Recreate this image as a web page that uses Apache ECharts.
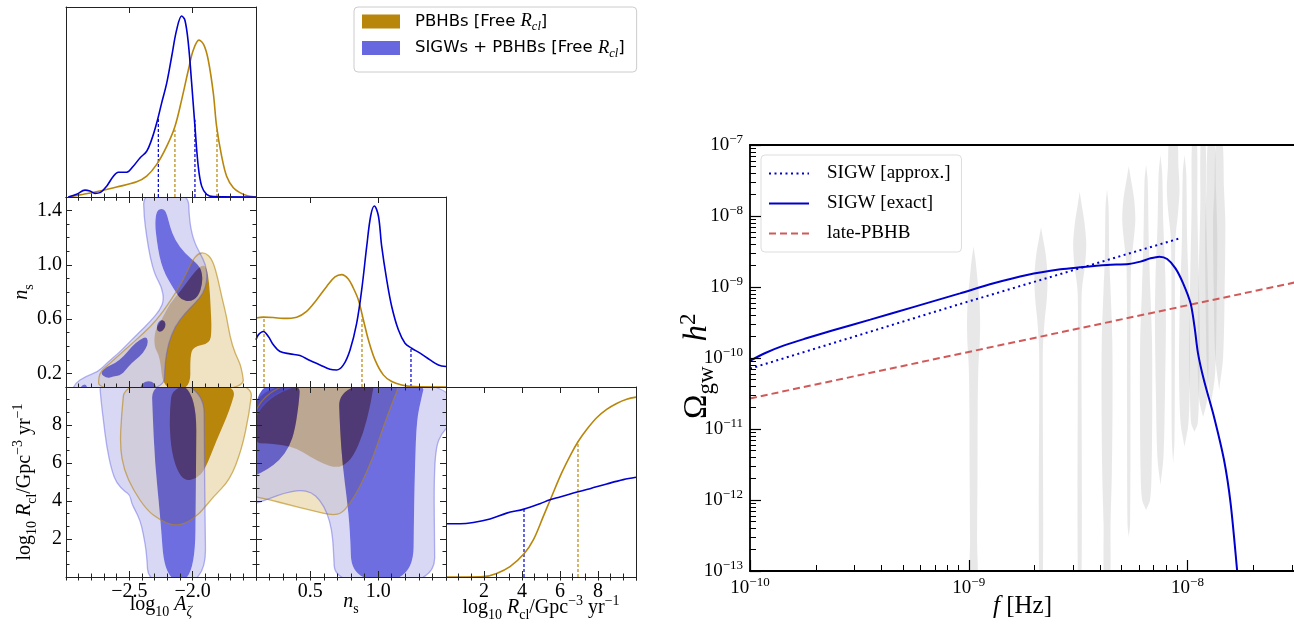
<!DOCTYPE html>
<html>
<head>
<meta charset="utf-8">
<title>corner + SIGW spectrum</title>
<script src="https://cdn.jsdelivr.net/npm/echarts@6.0.0/dist/echarts.min.js"></script>
<style>
html,body{margin:0;padding:0;background:#ffffff;}
#chart{width:1294px;height:626px;}
</style>
</head>
<body>
<div id="chart"></div>
<script>
// ======================= DATA : corner plot =======================
const rangeA = [-3.0, -1.5];          // log10 A_zeta
const rangeNs = [0.1, 1.5];           // n_s
const rangeR = [0, 10];               // log10 R_cl
const rangeMarg = [0, 1.05];          // normalised marginal density
const ticksA = [-2.5, -2.0];
const ticksNsY = [0.2, 0.6, 1.0, 1.4];
const ticksNsX = [0.5, 1.0];
const ticksR = [2, 4, 6, 8];
const minorStepA = 0.1, minorStepNs = 0.1, minorStepR = 2 / 3;

// 1D marginals  [x, density]
const margA_blue = [[-2.982,0],[-2.916,0.015],[-2.85,0.038],[-2.811,0.033],[-2.771,0.02],[-2.732,0.024],[-2.679,0.06],[-2.626,0.115],[-2.587,0.137],[-2.521,0.137],[-2.469,0.17],[-2.416,0.216],[-2.363,0.253],[-2.324,0.317],[-2.284,0.409],[-2.245,0.519],[-2.205,0.629],[-2.166,0.775],[-2.127,0.922],[-2.087,1.0],[-2.061,0.977],[-2.034,0.848],[-2.008,0.629],[-1.982,0.39],[-1.956,0.17],[-1.929,0.06],[-1.89,0.015],[-1.837,0.002],[-1.5,0]];
const margA_gold = [[-2.982,0],[-2.863,0.015],[-2.732,0.033],[-2.6,0.055],[-2.442,0.084],[-2.363,0.115],[-2.284,0.18],[-2.205,0.28],[-2.14,0.39],[-2.087,0.537],[-2.034,0.702],[-1.995,0.812],[-1.95,0.867],[-1.911,0.839],[-1.877,0.757],[-1.837,0.574],[-1.811,0.39],[-1.771,0.225],[-1.732,0.115],[-1.679,0.051],[-1.627,0.024],[-1.561,0.005],[-1.5,0]];
const margNs_blue = [[0.1,0.261],[0.117,0.288],[0.154,0.307],[0.191,0.279],[0.228,0.233],[0.277,0.196],[0.351,0.183],[0.424,0.174],[0.498,0.146],[0.572,0.122],[0.645,0.098],[0.694,0.094],[0.744,0.122],[0.793,0.205],[0.842,0.353],[0.879,0.538],[0.916,0.778],[0.945,0.945],[0.972,1.0],[1.002,0.945],[1.026,0.778],[1.063,0.593],[1.1,0.445],[1.149,0.316],[1.198,0.242],[1.247,0.214],[1.309,0.187],[1.382,0.15],[1.444,0.122],[1.5,0.113]];
const margNs_gold = [[0.1,0.381],[0.154,0.386],[0.228,0.384],[0.301,0.379],[0.4,0.386],[0.473,0.418],[0.547,0.482],[0.621,0.556],[0.682,0.608],[0.731,0.621],[0.78,0.597],[0.817,0.547],[0.854,0.482],[0.891,0.372],[0.928,0.261],[0.977,0.15],[1.038,0.067],[1.1,0.03],[1.173,0.011],[1.259,0.002],[1.5,0]];
const margR_blue = [[0,0.294],[0.737,0.294],[1.439,0.301],[2.316,0.32],[3.193,0.353],[4.105,0.375],[4.947,0.405],[5.474,0.427],[6.0,0.442],[6.702,0.464],[7.579,0.488],[8.456,0.514],[9.333,0.538],[10,0.551]];
const margR_gold = [[0,0],[1.088,0],[1.965,0.002],[2.667,0.02],[3.368,0.057],[4.105,0.128],[4.596,0.205],[5.123,0.335],[5.561,0.445],[6.088,0.575],[6.614,0.686],[6.965,0.75],[7.404,0.815],[7.93,0.88],[8.456,0.926],[8.982,0.959],[9.509,0.982],[10,0.994]];

// credible-interval marks [x, height]
const qA_blue = [[-2.271,0.436],[-1.982,0.427]];
const qA_gold = [[-2.14,0.372],[-1.808,0.372]];
const qNs_blue = [[1.242,0.22]];
const qNs_gold = [[0.159,0.386],[0.881,0.39]];
const qR_blue = [[4.105,0.375]];
const qR_gold = [[6.947,0.75]];

// 2D contours (panel log10A - n_s)
const gold2_AN = [[-2.74,0.06],[-2.745,0.201],[-2.653,0.274],[-2.521,0.385],[-2.39,0.495],[-2.284,0.594],[-2.179,0.729],[-2.087,0.864],[-2.008,1.024],[-1.956,1.085],[-1.903,1.09],[-1.85,1.048],[-1.811,0.938],[-1.771,0.766],[-1.732,0.618],[-1.706,0.471],[-1.666,0.348],[-1.614,0.25],[-1.587,0.06]];
const gold1_AN = [[-2.232,0.08],[-2.258,0.324],[-2.305,0.397],[-2.298,0.52],[-2.245,0.594],[-2.179,0.717],[-2.087,0.815],[-1.995,0.938],[-1.929,0.999],[-1.89,0.987],[-1.869,0.864],[-1.858,0.692],[-1.85,0.52],[-1.863,0.422],[-1.995,0.397],[-2.021,0.324],[-2.016,0.08]];
const blue2_AN = [[-2.39,1.54],[-2.034,1.54],[-2.027,1.331],[-1.995,1.183],[-1.942,1.085],[-1.895,0.999],[-1.884,0.889],[-1.916,0.79],[-1.982,0.717],[-2.061,0.643],[-2.14,0.545],[-2.192,0.422],[-2.219,0.274],[-2.227,0.06],[-2.955,0.06],[-2.929,0.127],[-2.85,0.176],[-2.745,0.213],[-2.679,0.274],[-2.587,0.348],[-2.521,0.41],[-2.469,0.459],[-2.416,0.508],[-2.337,0.581],[-2.258,0.667],[-2.227,0.741],[-2.245,0.839],[-2.298,0.925],[-2.337,1.06],[-2.363,1.208],[-2.384,1.355]];
const blue1_AN = [
  [[-2.284,1.404],[-2.232,1.417],[-2.205,1.38],[-2.179,1.282],[-2.14,1.183],[-2.061,1.085],[-1.969,1.011],[-1.929,0.962],[-1.921,0.864],[-1.956,0.766],[-2.021,0.729],[-2.087,0.741],[-2.127,0.79],[-2.192,0.889],[-2.232,0.962],[-2.263,1.06],[-2.284,1.183],[-2.298,1.306]],
  [[-2.279,0.508],[-2.284,0.557],[-2.258,0.594],[-2.219,0.589],[-2.213,0.545],[-2.24,0.508]],
  [[-2.732,0.201],[-2.679,0.25],[-2.613,0.274],[-2.547,0.324],[-2.482,0.397],[-2.416,0.451],[-2.363,0.471],[-2.35,0.422],[-2.39,0.348],[-2.455,0.299],[-2.508,0.25],[-2.561,0.188],[-2.626,0.176],[-2.679,0.164]],
  [[-2.416,0.08],[-2.403,0.127],[-2.35,0.147],[-2.298,0.132],[-2.284,0.08]],
  [[-2.89,0.08],[-2.876,0.115],[-2.842,0.12],[-2.824,0.08]]
];

// 2D contours (panel log10A - log10R)
const gold2_AR = [[-2.534,10.4],[-2.561,8.614],[-2.574,6.86],[-2.542,5.632],[-2.469,4.579],[-2.363,3.526],[-2.258,3.0],[-2.153,2.702],[-2.048,2.825],[-1.942,3.351],[-1.837,4.228],[-1.706,5.105],[-1.614,6.684],[-1.553,8.614],[-1.521,10.4]];
const gold1_AR = [[-2.158,10.2],[-2.184,8.614],[-2.174,6.86],[-2.127,5.632],[-2.061,5.053],[-1.969,5.193],[-1.903,5.632],[-1.811,7.211],[-1.706,8.789],[-1.648,10.2]];
const blue2_AR = [[-2.737,10.4],[-1.911,10.4],[-1.908,6.86],[-1.903,3.351],[-1.895,-0.4],[-2.35,-0.4],[-2.363,1.246],[-2.39,2.298],[-2.416,3.0],[-2.455,3.526],[-2.482,3.877],[-2.495,4.316],[-2.534,4.491],[-2.6,4.93],[-2.64,5.632],[-2.679,6.86],[-2.705,8.263],[-2.724,9.316]];
const blue1_AR = [[[-2.324,10.2],[-1.969,10.2],[-1.974,5.105],[-1.982,-0.2],[-2.219,-0.2],[-2.258,3.351],[-2.298,5.982],[-2.316,8.614]]];

// 2D contours (panel n_s - log10R)
const gold2_NR = [[0.06,10.4],[1.161,10.4],[1.149,9.982],[1.112,9.316],[1.038,7.912],[0.965,6.333],[0.866,4.754],[0.793,3.877],[0.731,3.351],[0.67,3.263],[0.596,3.351],[0.498,3.526],[0.351,3.789],[0.203,4.053],[0.1,4.228],[0.06,4.263]];
const gold1_NR = [[0.08,10.2],[0.977,10.2],[0.965,9.982],[0.94,8.965],[0.891,7.561],[0.817,6.333],[0.744,5.842],[0.682,5.772],[0.596,5.947],[0.498,6.333],[0.4,6.772],[0.301,6.947],[0.179,7.035],[0.08,7.035]];
const blue2_NR = [[0.06,10.4],[1.54,10.4],[1.54,8.1],[1.468,7.561],[1.426,6.86],[1.412,5.105],[1.414,2.474],[1.419,-0.4],[0.682,-0.4],[0.67,1.596],[0.658,2.474],[0.626,3.351],[0.572,4.053],[0.51,4.456],[0.424,4.579],[0.301,4.404],[0.203,4.14],[0.1,3.877],[0.06,3.842]];
const blue1_NR = [
  [[0.08,10.2],[0.424,10.2],[0.419,9.316],[0.387,7.737],[0.346,6.86],[0.277,6.158],[0.179,5.632],[0.1,5.368],[0.08,5.3]],
  [[0.707,10.2],[1.345,10.2],[1.321,9.491],[1.284,8.263],[1.272,5.982],[1.264,3.351],[1.259,-0.2],[0.805,-0.2],[0.793,2.474],[0.768,4.228],[0.739,5.807],[0.719,7.737]]
];

// ======================= DATA : spectrum plot =======================
const freqRange = [1e-10, 3.1e-8];
const omegaRange = [1e-13, 1e-7];
const freqTicks = [1e-10, 1e-9, 1e-8];
const omegaTicks = [1e-13, 1e-12, 1e-11, 1e-10, 1e-9, 1e-8, 1e-7];
const minorMult = [2, 3, 4, 5, 6, 7, 8, 9];
const freqDecades = [1e-10, 1e-9, 1e-8];
const omegaDecades = [1e-13, 1e-12, 1e-11, 1e-10, 1e-9, 1e-8];

// [log10 f, log10 Omega h^2]
const sigwApprox = [[-10,-10.15],[-9.04,-9.24],[-8.03,-8.31]];
const sigwExact = [[-10,-10.04],[-9.93,-9.93],[-9.85,-9.83],[-9.75,-9.73],[-9.62,-9.61],[-9.45,-9.46],[-9.25,-9.28],[-9.04,-9.09],[-8.886,-8.948],[-8.734,-8.831],[-8.581,-8.751],[-8.493,-8.723],[-8.368,-8.69],[-8.268,-8.676],[-8.215,-8.643],[-8.169,-8.596],[-8.128,-8.573],[-8.093,-8.606],[-8.055,-8.737],[-8.02,-8.948],[-7.986,-9.23],[-7.968,-9.559],[-7.952,-9.934],[-7.925,-10.31],[-7.879,-10.826],[-7.833,-11.437],[-7.803,-12.047],[-7.773,-13.0],[-7.765,-13.3]];
const latePBHB = [[-10,-10.57],[-7.5,-8.93]];

// PTA violins: centre frequency [Hz]; profile [log10 Omega, half-width in dex of f]
const violinFreq = [1.052e-9, 2.139e-9, 3.215e-9, 4.287e-9, 5.389e-9, 6.467e-9, 7.52e-9, 8.60e-9, 9.69e-9, 1.076e-8, 1.179e-8, 1.283e-8, 1.396e-8];
const violinProfiles = [
  [[-8.43,0],[-8.6,0.008],[-8.9,0.018],[-9.2,0.027],[-9.5,0.03],[-9.8,0.028],[-10.12,0.022],[-10.69,0.019],[-11.62,0.018],[-12.56,0.016],[-13.2,0.016]],
  [[-8.16,0],[-8.3,0.008],[-8.55,0.022],[-8.85,0.03],[-9.15,0.027],[-9.5,0.016],[-9.84,0.009],[-10.22,0.008],[-13.2,0.008]],
  [[-7.66,0],[-7.82,0.008],[-8.1,0.022],[-8.4,0.03],[-8.7,0.024],[-9.04,0.01],[-9.5,0.008],[-13.2,0.008]],
  [[-7.63,0],[-7.87,0.007],[-8.57,0.01],[-9.04,0.016],[-9.75,0.024],[-10.69,0.025],[-11.62,0.022],[-12.33,0.016],[-13.2,0.012]],
  [[-7.30,0],[-7.45,0.008],[-7.75,0.024],[-8.05,0.03],[-8.35,0.022],[-8.71,0.01],[-10.69,0.008],[-12.33,0.006],[-12.52,0]],
  [[-7.28,0],[-7.49,0.007],[-8.34,0.012],[-9.04,0.019],[-9.75,0.027],[-10.69,0.028],[-11.62,0.025],[-12.0,0.018],[-12.14,0]],
  [[-7.14,0],[-7.40,0.008],[-8.10,0.013],[-8.81,0.022],[-9.51,0.025],[-10.45,0.021],[-11.39,0.014],[-11.79,0]],
  [[-6.9,0.016],[-7.31,0.024],[-7.63,0.029],[-7.96,0.022],[-8.34,0.01],[-9.75,0.008],[-11.16,0.006],[-11.48,0]],
  [[-7.14,0],[-7.40,0.008],[-8.34,0.012],[-9.28,0.022],[-10.22,0.025],[-10.92,0.018],[-11.25,0]],
  [[-6.9,0.01],[-7.87,0.013],[-8.81,0.019],[-9.75,0.025],[-10.45,0.021],[-10.92,0.015],[-11.04,0]],
  [[-6.9,0.01],[-7.87,0.013],[-9.04,0.022],[-9.98,0.025],[-10.59,0.018],[-10.83,0]],
  [[-6.9,0.013],[-7.63,0.022],[-8.34,0.028],[-9.28,0.025],[-10.22,0.018],[-10.64,0]],
  [[-6.9,0.013],[-7.63,0.022],[-8.10,0.028],[-9.04,0.025],[-9.98,0.018],[-10.45,0]]
];

// ======================= STYLE =======================
const SERIF = '"Liberation Serif","DejaVu Serif",serif';
const SANS = '"DejaVu Sans","Liberation Sans",sans-serif';
const GOLD = '#B8860B', GOLD_L = '#EFE3C3';
const BLUE_1 = 'rgba(0,0,200,0.57)', BLUE_2 = 'rgba(190,190,238,0.6)';
const LINE_BLUE = '#0000d0';
const NAME_GOLD = 'PBHBs [Free Rcl]', NAME_BLUE = 'SIGWs + PBHBs [Free Rcl]';
const MINUS = '\u2212';

function richSet(fs) {
  const s = Math.round(fs * 0.7);
  return {
    n: {fontFamily: SERIF, fontSize: fs, color: '#000', lineHeight: fs + 8},
    i: {fontFamily: SERIF, fontStyle: 'italic', fontSize: fs, color: '#000', lineHeight: fs + 8},
    sb: {fontFamily: SERIF, fontSize: s, color: '#000', lineHeight: s + 4, verticalAlign: 'bottom'},
    sbi: {fontFamily: SERIF, fontStyle: 'italic', fontSize: s, color: '#000', lineHeight: s + 4, verticalAlign: 'bottom'},
    sp: {fontFamily: SERIF, fontSize: s, color: '#000', lineHeight: s + 4, verticalAlign: 'top'}
  };
}
const RICH20 = richSet(20), RICH25 = richSet(25), RICH33 = richSet(33);
const POWRICH = {
  b: {fontFamily: SERIF, fontSize: 19, color: '#000', lineHeight: 24},
  s: {fontFamily: SERIF, fontSize: 13, color: '#000', lineHeight: 15, verticalAlign: 'top'}
};
function powFmt(v) {
  const L = Math.log10(v), e = Math.round(L);
  if (Math.abs(L - e) > 1e-6) return '';
  return '{b|10}{s|' + (e < 0 ? MINUS : '') + Math.abs(e) + '}';
}
const fmtA = v => (v < 0 ? MINUS : '') + Math.abs(v).toFixed(1);
const fmtNs = v => v.toFixed(1);
const fmtR = v => String(Math.round(v));

// ======================= AXES =======================
const xAxis = [], yAxis = [];
const AXC = '#222';
function lsty() { return {color: AXC, width: 1}; }

function addDim(isY, grid, range, majors, minorStep, o) {
  o = o || {};
  const list = isY ? yAxis : xAxis;
  const p1 = isY ? 'left' : 'bottom', p2 = isY ? 'right' : 'top';
  const base = () => ({gridIndex: grid, type: 'value', min: range[0], max: range[1], splitLine: {show: false}, z: 6, silent: true, axisPointer: {show: false}});
  const majT = () => majors ? {show: true, inside: true, length: 6, customValues: majors, lineStyle: lsty()} : {show: false};
  const minT = () => ({show: true, inside: true, length: 3.5, lineStyle: lsty()});
  const idx = list.length;
  const main = Object.assign(base(), {position: p1, axisLine: {show: true, onZero: false, lineStyle: lsty()}, axisTick: majT(), axisLabel: {show: false}});
  if (o.fmt) main.axisLabel = {show: true, customValues: majors, formatter: o.fmt, fontFamily: SERIF, fontSize: 20, color: '#000', margin: isY ? 4 : 5};
  if (o.name) Object.assign(main, {name: o.name, nameLocation: 'middle', nameGap: o.gap, nameMoveOverlap: false, nameRotate: isY ? 90 : 0, nameTextStyle: {rich: RICH20, color: '#000'}});
  list.push(main);
  list.push(Object.assign(base(), {position: p2, axisLine: {show: true, onZero: false, lineStyle: lsty()}, axisTick: majT(), axisLabel: {show: false}}));
  if (majors) {
    list.push(Object.assign(base(), {position: p1, interval: minorStep, axisLine: {show: false}, axisTick: minT(), axisLabel: {show: false}}));
    list.push(Object.assign(base(), {position: p2, interval: minorStep, axisLine: {show: false}, axisTick: minT(), axisLabel: {show: false}}));
  }
  return idx;
}

const NAME_A = '{n|log}{sb|10}{n| }{i|A}{sbi|ζ}';
const NAME_NS = '{i|n}{sb|s}';
const NAME_R = '{n|log}{sb|10}{n| }{i|R}{sb|cl}{n|/Gpc}{sp|' + MINUS + '3}{n| yr}{sp|' + MINUS + '1}';

// panel (0,0) marginal A
const x00 = addDim(false, 0, rangeA, ticksA, minorStepA);
const y00 = addDim(true, 0, rangeMarg, null, null);
// panel (1,0) A - ns
const x10 = addDim(false, 1, rangeA, ticksA, minorStepA);
const y10 = addDim(true, 1, rangeNs, ticksNsY, minorStepNs, {fmt: fmtNs, name: NAME_NS, gap: 30});
// panel (1,1) marginal ns
const x11 = addDim(false, 2, rangeNs, ticksNsX, minorStepNs);
const y11 = addDim(true, 2, rangeMarg, null, null);
// panel (2,0) A - R
const x20 = addDim(false, 3, rangeA, ticksA, minorStepA, {fmt: fmtA, name: NAME_A, gap: 14});
const y20 = addDim(true, 3, rangeR, ticksR, minorStepR, {fmt: fmtR, name: NAME_R, gap: 27});
// panel (2,1) ns - R
const x21 = addDim(false, 4, rangeNs, ticksNsX, minorStepNs, {fmt: fmtNs, name: NAME_NS, gap: 11});
const y21 = addDim(true, 4, rangeR, ticksR, minorStepR);
// panel (2,2) marginal R
const x22 = addDim(false, 5, rangeR, ticksR, minorStepR, {fmt: fmtR, name: NAME_R, gap: 17});
const y22 = addDim(true, 5, rangeMarg, null, null);

// spectrum axes
const freqMinor = [], omegaMinor = [];
freqDecades.forEach(d => minorMult.forEach(m => freqMinor.push(m * d)));
omegaDecades.forEach(d => minorMult.forEach(m => omegaMinor.push(m * d)));
const BL = {color: '#000', width: 1.8};
const xS = xAxis.length;
xAxis.push({gridIndex: 6, type: 'log', logBase: 10, min: freqRange[0], max: freqRange[1], position: 'bottom', z: 6, silent: true,
  axisLine: {show: true, onZero: false, lineStyle: BL},
  axisTick: {show: true, inside: true, length: 11, customValues: freqTicks, lineStyle: {color: '#000', width: 1.2}},
  axisLabel: {show: true, customValues: freqTicks, formatter: powFmt, rich: POWRICH, margin: 5},
  splitLine: {show: false}, minorTick: {show: false},
  name: '{i|f}{n| [Hz]}', nameLocation: 'middle', nameGap: 19, nameMoveOverlap: false, nameTextStyle: {rich: RICH25, color: '#000'}});
xAxis.push({gridIndex: 6, type: 'log', logBase: 10, min: freqRange[0], max: freqRange[1], position: 'bottom', z: 6, silent: true,
  axisLine: {show: false}, axisTick: {show: true, inside: true, length: 6, customValues: freqMinor, lineStyle: {color: '#000', width: 1}},
  axisLabel: {show: false}, splitLine: {show: false}});
xAxis.push({gridIndex: 6, type: 'log', logBase: 10, min: freqRange[0], max: freqRange[1], position: 'top', z: 6, silent: true,
  axisLine: {show: true, onZero: false, lineStyle: BL}, axisTick: {show: false}, axisLabel: {show: false}, splitLine: {show: false}});
const yS = yAxis.length;
yAxis.push({gridIndex: 6, type: 'log', logBase: 10, min: omegaRange[0], max: omegaRange[1], position: 'left', z: 6, silent: true,
  axisLine: {show: true, onZero: false, lineStyle: BL},
  axisTick: {show: true, inside: true, length: 11, customValues: omegaTicks, lineStyle: {color: '#000', width: 1.2}},
  axisLabel: {show: true, customValues: omegaTicks, formatter: powFmt, rich: POWRICH, margin: 7},
  splitLine: {show: false}, minorTick: {show: false},
  name: '{n|Ω}{sb|gw}{n|   }{i|h}{sp|2}{n|  }', nameLocation: 'middle', nameGap: 32, nameMoveOverlap: false, nameRotate: 90, nameTextStyle: {rich: RICH33, color: '#000'}});
yAxis.push({gridIndex: 6, type: 'log', logBase: 10, min: omegaRange[0], max: omegaRange[1], position: 'left', z: 6, silent: true,
  axisLine: {show: false}, axisTick: {show: true, inside: true, length: 6, customValues: omegaMinor, lineStyle: {color: '#000', width: 1}},
  axisLabel: {show: false}, splitLine: {show: false}});

// ======================= RENDER HELPERS =======================
function pathFromPx(px) {
  const n = px.length, mid = (a, b) => [(a[0] + b[0]) / 2, (a[1] + b[1]) / 2];
  const P = p => p[0].toFixed(2) + ' ' + p[1].toFixed(2);
  let d = 'M' + P(mid(px[n - 1], px[0]));
  for (let i = 0; i < n; i++) d += ' Q' + P(px[i]) + ' ' + P(mid(px[i], px[(i + 1) % n]));
  return d + ' Z';
}
function ring(api, pts, positive) {
  let px = pts.map(p => api.coord(p));
  let a = 0;
  for (let i = 0; i < px.length; i++) { const p = px[i], q = px[(i + 1) % px.length]; a += p[0] * q[1] - q[0] * p[1]; }
  if ((a > 0) !== positive) px = px.slice().reverse();
  return pathFromPx(px);
}
function clipRect(params) { const c = params.coordSys; return {type: 'rect', shape: {x: c.x, y: c.y, width: c.width, height: c.height}}; }

function fillSeries(name, xi, yi, anchor, outer, inner, col2, col1, holes) {
  return {
    type: 'custom', name: name, xAxisIndex: xi, yAxisIndex: yi, coordinateSystem: 'cartesian2d', silent: true, clip: true,
    itemStyle: {color: col1}, data: [anchor],
    renderItem: function (params, api) {
      let d2 = outer.map(p => ring(api, p, true)).join(' ');
      if (holes) d2 += ' ' + inner.map(p => ring(api, p, false)).join(' ');
      const d1 = inner.map(p => ring(api, p, true)).join(' ');
      return {type: 'group', clipPath: clipRect(params), children: [
        {type: 'path', shape: {pathData: d2}, style: {fill: col2}},
        {type: 'path', shape: {pathData: d1}, style: {fill: col1}}
      ]};
    }
  };
}
function outlineSeries(xi, yi, anchor, polys) {
  return {
    type: 'custom', xAxisIndex: xi, yAxisIndex: yi, coordinateSystem: 'cartesian2d', silent: true, clip: true, data: [anchor],
    renderItem: function (params, api) {
      return {type: 'group', clipPath: clipRect(params), children: polys.map(pc => ({
        type: 'path', shape: {pathData: ring(api, pc[0], true)}, style: {fill: 'none', stroke: pc[1], lineWidth: 1.3}
      }))};
    }
  };
}
function margSeries(xi, yi, data, color) {
  return {type: 'line', xAxisIndex: xi, yAxisIndex: yi, data: data, smooth: 0.35, symbol: 'none', silent: true,
    lineStyle: {color: color, width: 1.6}, z: 3};
}
function quantSeries(xi, yi, data, color) {
  return {type: 'custom', xAxisIndex: xi, yAxisIndex: yi, coordinateSystem: 'cartesian2d', silent: true, data: data, z: 3,
    renderItem: function (params, api) {
      const x = api.value(0), h = api.value(1);
      const p0 = api.coord([x, 0]), p1 = api.coord([x, h]);
      return {type: 'line', shape: {x1: p0[0], y1: p0[1], x2: p1[0], y2: p1[1]}, style: {stroke: color, lineWidth: 1.2, lineDash: [3, 2]}};
    }};
}
const toLin = arr => arr.map(p => [Math.pow(10, p[0]), Math.pow(10, p[1])]);

// ======================= SERIES =======================
const GOLD_LINE = 'rgba(184,134,11,0.6)', BLUE_LINE = 'rgba(90,90,225,0.45)';
const series = [
  margSeries(x00, y00, margA_gold, GOLD), margSeries(x00, y00, margA_blue, LINE_BLUE),
  quantSeries(x00, y00, qA_gold, GOLD), quantSeries(x00, y00, qA_blue, LINE_BLUE),
  fillSeries(NAME_GOLD, x10, y10, [rangeA[0], rangeNs[0]], [gold2_AN], [gold1_AN], GOLD_L, GOLD, false),
  fillSeries(NAME_BLUE, x10, y10, [rangeA[0], rangeNs[0]], [blue2_AN], blue1_AN, BLUE_2, BLUE_1, true),
  outlineSeries(x10, y10, [rangeA[0], rangeNs[0]], [[gold2_AN, GOLD_LINE], [blue2_AN, BLUE_LINE]]),
  margSeries(x11, y11, margNs_gold, GOLD), margSeries(x11, y11, margNs_blue, LINE_BLUE),
  quantSeries(x11, y11, qNs_gold, GOLD), quantSeries(x11, y11, qNs_blue, LINE_BLUE),
  fillSeries(NAME_GOLD, x20, y20, [rangeA[0], rangeR[0]], [gold2_AR], [gold1_AR], GOLD_L, GOLD, false),
  fillSeries(NAME_BLUE, x20, y20, [rangeA[0], rangeR[0]], [blue2_AR], blue1_AR, BLUE_2, BLUE_1, true),
  outlineSeries(x20, y20, [rangeA[0], rangeR[0]], [[gold2_AR, GOLD_LINE], [blue2_AR, BLUE_LINE]]),
  fillSeries(NAME_GOLD, x21, y21, [rangeNs[0], rangeR[0]], [gold2_NR], [gold1_NR], GOLD_L, GOLD, false),
  fillSeries(NAME_BLUE, x21, y21, [rangeNs[0], rangeR[0]], [blue2_NR], blue1_NR, BLUE_2, BLUE_1, true),
  outlineSeries(x21, y21, [rangeNs[0], rangeR[0]], [[gold2_NR, GOLD_LINE], [blue2_NR, BLUE_LINE]]),
  margSeries(x22, y22, margR_gold, GOLD), margSeries(x22, y22, margR_blue, LINE_BLUE),
  quantSeries(x22, y22, qR_gold, GOLD), quantSeries(x22, y22, qR_blue, LINE_BLUE),
  {type: 'custom', xAxisIndex: xS, yAxisIndex: yS, coordinateSystem: 'cartesian2d', silent: true, clip: true,
    data: violinFreq.map((f, i) => [f, 1e-10, i]), encode: {x: 0, y: 1},
    renderItem: function (params, api) {
      const f = api.value(0), prof = violinProfiles[api.value(2)];
      const left = prof.map(p => api.coord([f * Math.pow(10, -p[1]), Math.pow(10, p[0])]));
      const right = prof.slice().reverse().map(p => api.coord([f * Math.pow(10, p[1]), Math.pow(10, p[0])]));
      return {type: 'group', clipPath: clipRect(params), children: [
        {type: 'polygon', shape: {points: left.concat(right), smooth: 0.3}, style: {fill: 'rgba(185,185,185,0.32)'}}]};
    }},
  {type: 'line', name: 'late-PBHB', xAxisIndex: xS, yAxisIndex: yS, data: toLin(latePBHB), symbol: 'none', silent: true,
    lineStyle: {color: '#d05a5a', width: 2, type: [7, 4]}, itemStyle: {color: '#d05a5a'}, z: 3},
  {type: 'line', name: 'SIGW [approx.]', xAxisIndex: xS, yAxisIndex: yS, data: toLin(sigwApprox), symbol: 'none', silent: true,
    lineStyle: {color: '#0000cc', width: 2, type: [2, 3.5]}, itemStyle: {color: '#0000cc'}, z: 3},
  {type: 'line', name: 'SIGW [exact]', xAxisIndex: xS, yAxisIndex: yS, data: toLin(sigwExact), symbol: 'none', smooth: 0.3, silent: true,
    lineStyle: {color: '#0000cc', width: 2}, itemStyle: {color: '#0000cc'}, z: 3}
];

// ======================= LEGENDS =======================
const LEG_TXT = {};
LEG_TXT[NAME_GOLD] = '{t|PBHBs [Free }{i|R}{s|cl}{t|]}';
LEG_TXT[NAME_BLUE] = '{t|SIGWs + PBHBs [Free }{i|R}{s|cl}{t|]}';
const hiddenSym = {opacity: 0, color: 'rgba(0,0,0,0)', borderWidth: 0, borderColor: 'rgba(0,0,0,0)'};
const legends = [
  {orient: 'vertical', left: 354, top: 7, padding: [5, 12, 12, 8], itemGap: 5, itemWidth: 38, itemHeight: 14, icon: 'rect',
    backgroundColor: '#fff', borderColor: '#cccccc', borderWidth: 1, borderRadius: 4, selectedMode: false,
    data: [{name: NAME_GOLD, itemStyle: {color: GOLD}}, {name: NAME_BLUE, itemStyle: {color: '#6767E0'}}],
    formatter: n => LEG_TXT[n],
    textStyle: {padding: [0, 0, 0, 10], rich: {
      t: {fontFamily: SANS, fontSize: 16.5, color: '#000', lineHeight: 24},
      i: {fontFamily: SERIF, fontStyle: 'italic', fontSize: 18.5, color: '#000', lineHeight: 24},
      s: {fontFamily: SERIF, fontStyle: 'italic', fontSize: 12.5, color: '#000', lineHeight: 16, verticalAlign: 'bottom'}}}},
  {orient: 'vertical', left: 761, top: 155, padding: [9, 11, 9, 7], itemGap: 11, itemWidth: 40, itemHeight: 14,
    backgroundColor: 'rgba(255,255,255,0.85)', borderColor: '#dddddd', borderWidth: 1, borderRadius: 4, selectedMode: false,
    itemStyle: hiddenSym,
    data: [{name: 'SIGW [approx.]', itemStyle: hiddenSym}, {name: 'SIGW [exact]', itemStyle: hiddenSym}, {name: 'late-PBHB', itemStyle: hiddenSym}],
    textStyle: {fontFamily: SERIF, fontSize: 19, color: '#000', lineHeight: 18, padding: [0, 0, 0, 13]}}
];

// ======================= GRIDS & OPTION =======================
const GRIDS = [
  {left: 66, top: 7, width: 190, height: 190},
  {left: 66, top: 197, width: 190, height: 190},
  {left: 256, top: 197, width: 190, height: 190},
  {left: 66, top: 387, width: 190, height: 190},
  {left: 256, top: 387, width: 190, height: 190},
  {left: 446, top: 387, width: 190, height: 190},
  {left: 750, top: 145, right: -1, height: 426}
];

const chart = echarts.init(document.getElementById('chart'), null, {renderer: 'canvas'});
chart.setOption({
  animation: false,
  backgroundColor: '#ffffff',
  textStyle: {fontFamily: SERIF},
  grid: GRIDS.map(g => Object.assign({show: false, containLabel: false, outerBoundsMode: 'none'}, g)),
  xAxis: xAxis,
  yAxis: yAxis,
  legend: legends,
  series: series
});
</script>
</body>
</html>
